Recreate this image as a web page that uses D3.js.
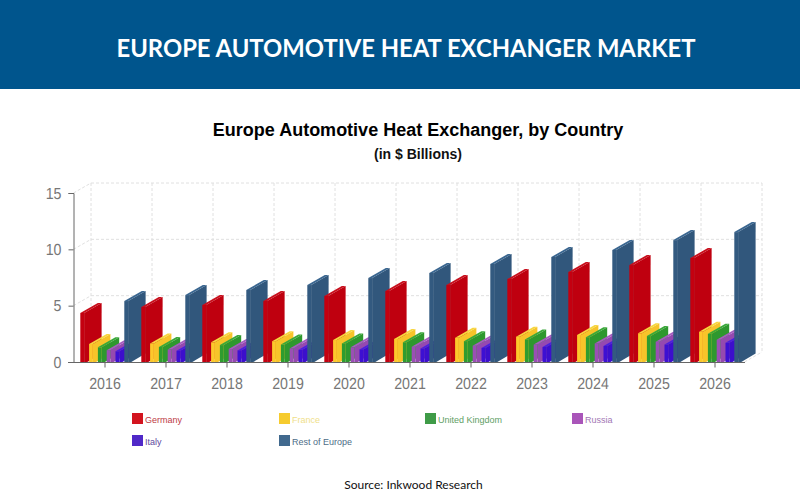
<!DOCTYPE html>
<html><head><meta charset="utf-8">
<script src="https://cdn.jsdelivr.net/npm/d3@7/dist/d3.min.js"></script>
<style>html,body{margin:0;padding:0;background:#fff}svg{display:block}</style>
</head><body><svg id="c" width="800" height="500"></svg>
<script>
const years = ["2016","2017","2018","2019","2020","2021","2022","2023","2024","2025","2026"];
const seriesNames = ["Germany","France","United Kingdom","Russia","Italy","Rest of Europe"];
const germany = [4.35,4.88,5.06,5.41,5.86,6.3,6.83,7.36,7.99,8.6,9.23];
const france = [1.6,1.65,1.75,1.85,1.95,2.05,2.15,2.25,2.4,2.55,2.68];
const uk = [1.3,1.33,1.5,1.55,1.65,1.75,1.85,2.0,2.2,2.3,2.5];
const russia = [1.05,1.1,1.15,1.2,1.3,1.35,1.45,1.55,1.65,1.8,1.98];
const italy = [0.95,1.0,1.03,1.08,1.12,1.2,1.25,1.33,1.42,1.55,1.7];
const rest = [5.41,5.94,6.39,6.83,7.45,7.9,8.7,9.32,9.94,10.82,11.53];
const seriesValues = [germany,france,uk,russia,italy,rest];
const frontColors = ["#c40010","#fcc82c","#2f9c2f","#9a50b4","#3d10d2","#335a80"];
const sideColors  = ["#bf000f","#f7c42a","#2e982e","#9549b0","#3c0fcc","#31577c"];
const capColors   = ["#c80f1c","#f6d63e","#3aa83a","#a65cc0","#4a20dc","#3a6690"];
const swatchColors= ["#d3141f","#f6cb2e","#3f9b47","#a955b9","#5029c8","#41698e"];
const legendText  = ["#bd3a44","#efe08a","#5fa066","#a276b4","#5f4a9e","#4d6d88"];
const yTicks = [0,5,10,15];

const svg = d3.select("#c");
const sans = "'Liberation Sans',Arial,sans-serif";
const depthX = 17.5, depthY = 10, barW = 3.8, baseW = 7, baseRise = 8.5;

svg.append("rect").attr("width",800).attr("height",89).attr("fill","#00558d");
svg.append("text").attr("x",406).attr("y",57).attr("text-anchor","middle")
  .attr("font-family","Lato").attr("font-weight",700).attr("font-size",23.8).attr("fill","#fff")
  .text("EUROPE AUTOMOTIVE HEAT EXCHANGER MARKET");
svg.append("text").attr("x",418).attr("y",136).attr("text-anchor","middle")
  .attr("font-family",sans).attr("font-weight",700).attr("font-size",18).attr("fill","#000")
  .text("Europe Automotive Heat Exchanger, by Country");
svg.append("text").attr("x",418).attr("y",159).attr("text-anchor","middle")
  .attr("font-family",sans).attr("font-weight",700).attr("font-size",14).attr("fill","#111")
  .text("(in $ Billions)");
svg.append("text").attr("x",413.5).attr("y",488.5).attr("text-anchor","middle")
  .attr("font-family","Lato").attr("font-size",12).attr("fill","#111")
  .text("Source: Inkwood Research");

const x0 = d3.scaleBand().domain(years).range([74.5,745.5]);
const x1 = d3.scaleBand().domain(seriesNames).range([5.8,58.6]);
const y = d3.scaleLinear().domain([0,15]).range([362,193]);

// 3D back wall grid
const grid = svg.append("g").attr("fill","none").attr("stroke","#e0e0e0").attr("stroke-dasharray","3,2").attr("stroke-width",1);
const wallL = x0.range()[0]-1+depthX, wallR = x0.range()[1]-1+depthX;
yTicks.forEach(t=>{
  if(t>0){
    grid.append("line").attr("x1",wallL).attr("x2",wallR).attr("y1",y(t)-depthY).attr("y2",y(t)-depthY);
    grid.append("line").attr("x1",x0.range()[0]-1).attr("x2",wallL).attr("y1",y(t)).attr("y2",y(t)-depthY);
  }
});
years.concat("end").forEach((yr,i)=>{
  const px = wallL + x0.step()*i;
  grid.append("line").attr("x1",px).attr("x2",px).attr("y1",y(15)-depthY).attr("y2",y(0)-depthY);
});
grid.append("line").attr("x1",x0.range()[1]-1).attr("x2",wallR).attr("y1",y(0)).attr("y2",y(0)-depthY);

// bars
const bars = svg.append("g");
years.forEach((yr,i)=>{
  seriesNames.forEach((s,k)=>{
    const v = seriesValues[k][i];
    const l = x0(yr)+x1(s), r = l+barW, t = y(v), b = y(0);
    const R = r+depthX;
    const g = bars.append("g");
    g.append("path").attr("fill",sideColors[k])
      .attr("d",d3.line()([[r,b],[l+baseW,b],[R,b-baseRise],[R,t-depthY],[r,t]])+"Z");
    g.append("path").attr("fill",capColors[k])
      .attr("d",d3.line()([[l,t],[l+depthX,t-depthY],[R,t-depthY],[r,t]])+"Z");
    g.append("rect").attr("x",l).attr("y",t).attr("width",barW).attr("height",b-t).attr("fill",frontColors[k]);
  });
});

// axes
const yAxis = svg.append("g").attr("transform","translate(73.5,0)")
  .call(d3.axisLeft(y).tickValues(yTicks).tickSize(5).tickPadding(7));
const xAxis = svg.append("g").attr("transform","translate(0,362.5)")
  .call(d3.axisBottom(x0).tickSize(5).tickPadding(10));
[yAxis,xAxis].forEach(a=>{
  a.selectAll("path,line").attr("stroke","#666");
  a.selectAll("text").attr("fill","#777").attr("font-family",sans).attr("font-size",16)
    .attr("text-rendering","geometricPrecision")
    .attr("lengthAdjust","spacingAndGlyphs")
    .attr("textLength",function(){return this.textContent.length*7.9;});
});
xAxis.select(".domain").attr("d","M68,0H745");

// legend
const legCols = [132,279,425,572], legRows = [413,435];
const legend = svg.append("g");
seriesNames.forEach((s,k)=>{
  const lx = legCols[k%4], ly = legRows[Math.floor(k/4)];
  legend.append("rect").attr("x",lx).attr("y",ly).attr("width",11).attr("height",11).attr("fill",swatchColors[k]);
  legend.append("text").attr("x",lx+13).attr("y",ly+9.5).attr("font-family",sans).attr("font-size",9)
    .attr("fill",legendText[k]).text(s);
});
</script></body></html>
